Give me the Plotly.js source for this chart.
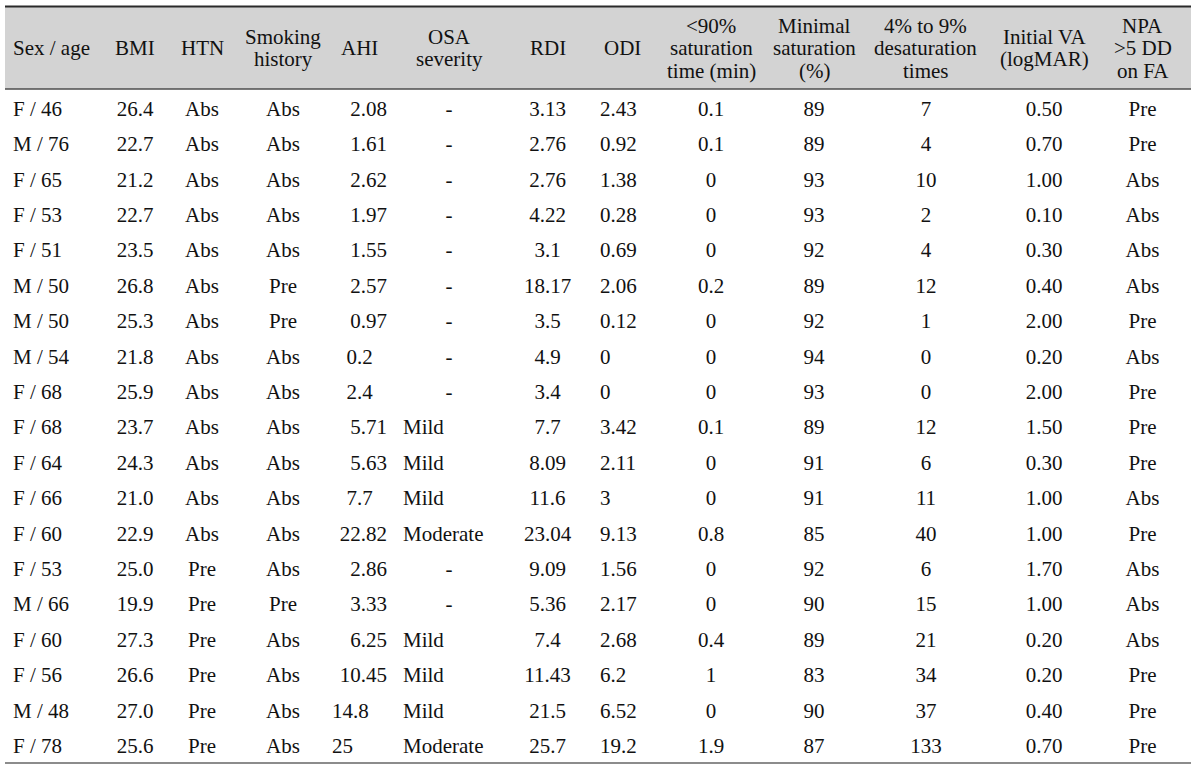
<!DOCTYPE html>
<html><head><meta charset="utf-8">
<script src="https://cdn.plot.ly/plotly-3.0.1.min.js"></script>
<style>html,body{margin:0;padding:0;background:#fff}#chart{width:1200px;height:772px}</style>
</head><body><div id="chart"></div>
<script>
// ---- data ----
const headers = [
  ['Sex / age'], ['BMI'], ['HTN'], ['Smoking', 'history'], ['AHI'], ['OSA', 'severity'],
  ['RDI'], ['ODI'], ['&lt;90%', 'saturation', 'time (min)'], ['Minimal', 'saturation', '(%)'],
  ['4% to 9%', 'desaturation', 'times'], ['Initial VA', '(logMAR)'], ['NPA', '&gt;5 DD', 'on FA']
];
const sexAge = ['F / 46','M / 76','F / 65','F / 53','F / 51','M / 50','M / 50','M / 54','F / 68','F / 68','F / 64','F / 66','F / 60','F / 53','M / 66','F / 60','F / 56','M / 48','F / 78'];
const bmi = ['26.4','22.7','21.2','22.7','23.5','26.8','25.3','21.8','25.9','23.7','24.3','21.0','22.9','25.0','19.9','27.3','26.6','27.0','25.6'];
const htn = ['Abs','Abs','Abs','Abs','Abs','Abs','Abs','Abs','Abs','Abs','Abs','Abs','Abs','Pre','Pre','Pre','Pre','Pre','Pre'];
const smoking = ['Abs','Abs','Abs','Abs','Abs','Pre','Pre','Abs','Abs','Abs','Abs','Abs','Abs','Abs','Pre','Abs','Abs','Abs','Abs'];
const ahi = ['2.08','1.61','2.62','1.97','1.55','2.57','0.97','0.2','2.4','5.71','5.63','7.7','22.82','2.86','3.33','6.25','10.45','14.8','25'];
const osaSeverity = ['-','-','-','-','-','-','-','-','-','Mild','Mild','Mild','Moderate','-','-','Mild','Mild','Mild','Moderate'];
const rdi = ['3.13','2.76','2.76','4.22','3.1','18.17','3.5','4.9','3.4','7.7','8.09','11.6','23.04','9.09','5.36','7.4','11.43','21.5','25.7'];
const odi = ['2.43','0.92','1.38','0.28','0.69','2.06','0.12','0','0','3.42','2.11','3','9.13','1.56','2.17','2.68','6.2','6.52','19.2'];
const sat90Time = ['0.1','0.1','0','0','0','0.2','0','0','0','0.1','0','0','0.8','0','0','0.4','1','0','1.9'];
const minimalSat = ['89','89','93','93','92','89','92','94','93','89','91','91','85','92','90','89','83','90','87'];
const desatTimes = ['7','4','10','2','4','12','1','0','0','12','6','11','40','6','15','21','34','37','133'];
const initialVA = ['0.50','0.70','1.00','0.10','0.30','0.40','2.00','0.20','2.00','1.50','0.30','1.00','1.00','1.70','1.00','0.20','0.20','0.40','0.70'];
const npa = ['Pre','Pre','Abs','Abs','Abs','Abs','Pre','Abs','Pre','Pre','Pre','Abs','Pre','Abs','Abs','Abs','Pre','Pre','Pre'];

// ---- layout / style ----
const W = 1200, H = 772;
const colEdges = [5, 108, 162, 242, 324, 395, 503, 592, 652, 770, 858, 994, 1094, 1191];
const headerTop = 7, headerBottom = 89, tableBottom = 763;
const cellShift = 3;            // cell text sits a little lower than the header rule
const rowH = 35.4, lineStep = 22.5;
const FONT = 'Liberation Serif, Times New Roman, serif';
const fontSize = 21, textColor = '#111111';

const columns = [sexAge, bmi, htn, smoking, ahi, osaSeverity, rdi, odi, sat90Time, minimalSat, desatTimes, initialVA, npa];
const widths = colEdges.slice(1).map((e, i) => e - colEdges[i]);

function alignFor(ci, v) {
  if (ci === 0) return 'left';
  if (ci === 4) { // AHI: decimal-like alignment
    if (/^\d{1,2}\.\d\d$/.test(v)) return 'right';
    if (/^\d\.\d$/.test(v)) return 'center';
    return 'left';
  }
  if (ci === 5) return v === '-' ? 'center' : 'left';
  if (ci === 7) return 'left';
  return 'center';
}
const aligns = columns.map((col, ci) => col.map(v => alignFor(ci, v)));

const py = p => 1 - p / H;
const px = p => p / W;

const trace = {
  type: 'table',
  domain: { x: [px(colEdges[0]), px(colEdges[colEdges.length - 1])], y: [py(tableBottom + cellShift + 1), py(headerTop)] },
  columnwidth: widths,
  header: {
    values: columns.map(() => ''),
    height: headerBottom - headerTop + cellShift,
    fill: { color: 'rgba(0,0,0,0)' },
    line: { width: 0, color: 'rgba(0,0,0,0)' },
    font: { family: FONT, size: fontSize, color: textColor }
  },
  cells: {
    values: columns,
    height: rowH,
    align: aligns,
    fill: { color: 'rgba(0,0,0,0)' },
    line: { width: 0, color: 'rgba(0,0,0,0)' },
    font: { family: FONT, size: fontSize, color: textColor }
  }
};

const annotations = [];
const hMid = (headerTop + headerBottom) / 2;
headers.forEach((lines, ci) => {
  const left = colEdges[ci], right = colEdges[ci + 1];
  lines.forEach((t, li) => {
    const y = hMid + (li - (lines.length - 1) / 2) * lineStep;
    annotations.push({
      text: t, showarrow: false, xref: 'paper', yref: 'paper',
      x: ci === 0 ? px(left + 6) : px((left + right) / 2),
      xanchor: ci === 0 ? 'left' : 'center',
      y: py(y), yanchor: 'middle',
      font: { family: FONT, size: fontSize, color: textColor }
    });
  });
});

const x0 = px(colEdges[0]), x1 = px(colEdges[colEdges.length - 1]);
const hline = (y, w, c) => ({ type: 'line', xref: 'paper', yref: 'paper', layer: 'above',
  x0: x0, x1: x1, y0: py(y), y1: py(y), line: { width: w, color: c } });

const layout = {
  width: W, height: H,
  margin: { l: 0, r: 0, t: 0, b: 0 },
  paper_bgcolor: '#ffffff',
  showlegend: false,
  annotations: annotations,
  shapes: [
    { type: 'rect', xref: 'paper', yref: 'paper', layer: 'below', x0: x0, x1: x1,
      y0: py(headerBottom), y1: py(headerTop), fillcolor: '#d3d3d3', line: { width: 0 } },
    hline(6.5, 2, '#2a2a2a'), hline(headerBottom, 1.5, '#4d4d4d'), hline(tableBottom, 2, '#8c8c8c')
  ]
};

Plotly.newPlot('chart', [trace], layout, { displayModeBar: false, staticPlot: true });
</script></body></html>
